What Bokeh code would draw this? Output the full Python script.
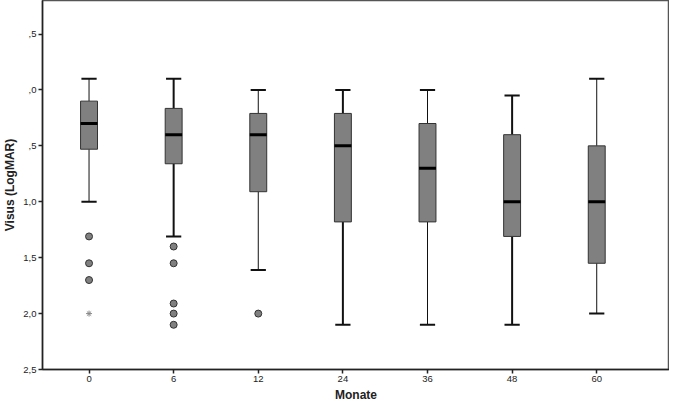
from bokeh.plotting import figure
from bokeh.models import Range1d, FixedTicker
from bokeh.embed import file_html
from bokeh.resources import INLINE

# ---- data ----
months = ["0", "6", "12", "24", "36", "48", "60"]
whisk_hi = [-0.10, -0.10, 0.00, 0.00, 0.00, 0.05, -0.10]   # upper (better) whisker
q1 = [0.10, 0.165, 0.21, 0.21, 0.30, 0.40, 0.50]
median = [0.30, 0.40, 0.40, 0.50, 0.70, 1.00, 1.00]
q3 = [0.53, 0.66, 0.91, 1.18, 1.18, 1.31, 1.55]
whisk_lo = [1.00, 1.31, 1.61, 2.10, 2.10, 2.10, 2.00]     # lower (worse) whisker
whisk_width = [1, 2, 1, 2, 1, 2, 1]

out_month = ["0", "0", "0", "6", "6", "6", "6", "6", "12"]
out_value = [1.31, 1.55, 1.70, 1.40, 1.55, 1.91, 2.00, 2.10, 2.00]
extreme_month = ["0"]
extreme_value = [2.00]

y_ticks = [-0.5, 0.0, 0.5, 1.0, 1.5, 2.0, 2.5]
y_tick_labels = [",5", ",0", ",5", "1,0", "1,5", "2,0", "2,5"]

# ---- figure ----
FONT = "Liberation Sans"
pos = {m: i for i, m in enumerate(months)}
xs = [pos[m] for m in months]

p = figure(width=669, height=404, output_backend="svg", toolbar_location=None,
           x_range=Range1d(-0.55, 6.86), y_range=Range1d(2.5, -0.80),
           min_border_left=0, min_border_right=0, min_border_top=0, min_border_bottom=0)
p.background_fill_color = "white"
p.border_fill_color = "white"
p.xgrid.visible = False
p.ygrid.visible = False
p.outline_line_color = "#555555"
p.outline_line_width = 1.5

bw = 0.2
cap = 0.09
for i, x in enumerate(xs):
    p.segment(x0=[x, x], y0=[whisk_hi[i], q3[i]], x1=[x, x], y1=[q1[i], whisk_lo[i]],
              line_color="#111111", line_width=whisk_width[i])
    p.segment(x0=[x - cap, x - cap], y0=[whisk_hi[i], whisk_lo[i]],
              x1=[x + cap, x + cap], y1=[whisk_hi[i], whisk_lo[i]],
              line_color="#111111", line_width=2)

p.vbar(x=xs, width=bw, top=q1, bottom=q3, fill_color="#808080",
       line_color="#333333", line_width=1)
p.segment(x0=[x - bw / 2 for x in xs], y0=median, x1=[x + bw / 2 for x in xs], y1=median,
          line_color="#000000", line_width=3)

p.scatter(x=[pos[m] for m in out_month], y=out_value, marker="circle", size=7,
          fill_color="#808080", line_color="#333333", line_width=1)
p.scatter(x=[pos[m] for m in extreme_month], y=extreme_value, marker="asterisk", size=6,
          line_color="#888888", line_width=1)

# axes
p.xaxis.ticker = FixedTicker(ticks=xs)
p.xaxis.major_label_overrides = {x: m for x, m in zip(xs, months)}
p.yaxis.ticker = FixedTicker(ticks=y_ticks)
p.yaxis.major_label_overrides = {t: l for t, l in zip(y_ticks, y_tick_labels)}
p.xaxis.axis_label = "Monate"
p.yaxis.axis_label = "Visus (LogMAR)"
for ax in (p.xaxis, p.yaxis):
    ax.axis_line_color = "#222222"
    ax.axis_line_width = 1.5
    ax.major_tick_line_color = "#222222"
    ax.major_tick_line_width = 1.5
    ax.major_tick_out = 4
    ax.major_tick_in = 0
    ax.minor_tick_line_color = None
    ax.major_label_text_font = FONT
    ax.major_label_text_font_size = "9.5px"
    ax.major_label_text_color = "#222222"
    ax.major_label_text_line_height = 0.9
    ax.axis_label_text_font = FONT
    ax.axis_label_text_font_size = "12px"
    ax.axis_label_text_font_style = "bold"
    ax.axis_label_text_color = "#222222"
    ax.axis_label_text_line_height = 0.9
    ax.major_label_standoff = 2
    ax.axis_label_standoff = 3
p.yaxis.major_label_orientation = "horizontal"

open("out.html", "w").write(file_html(p, INLINE))
